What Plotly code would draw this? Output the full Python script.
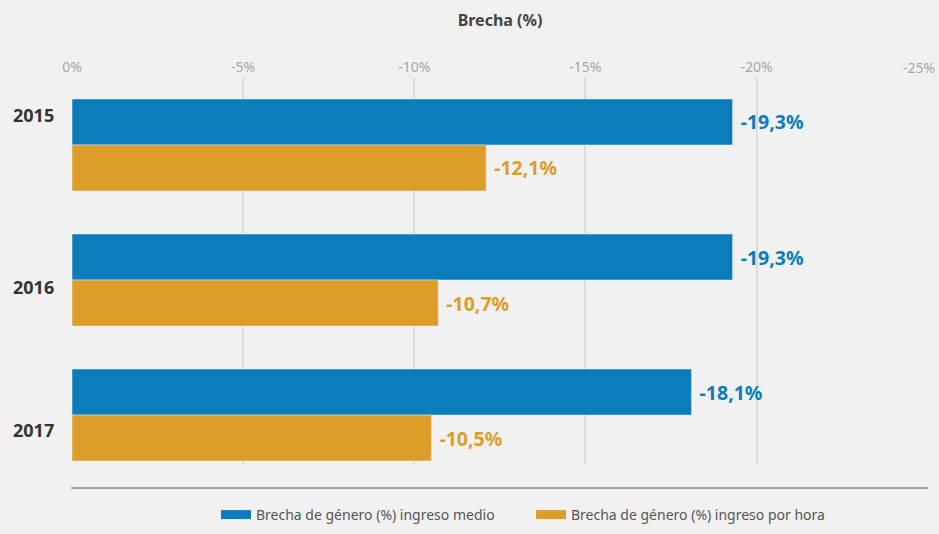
import plotly.graph_objects as go

years = ["2015", "2016", "2017"]
medio = [-19.3, -19.3, -18.1]
hora = [-12.1, -10.7, -10.5]
series_names = ["Brecha de género (%) ingreso medio", "Brecha de género (%) ingreso por hora"]
colors = ["#0c7dbc", "#dc9e28"]
tick_vals = [0, -5, -10, -15, -20, -25]
tick_text = ["0%", "-5%", "-10%", "-15%", "-20%", "-25%"]


def fmt(v):
    return "\u00a0" + ("%.1f%%" % v).replace(".", ",")


fig = go.Figure()
for vals, name, col in zip([medio, hora], series_names, colors):
    fig.add_trace(go.Bar(
        y=years, x=vals, orientation="h", name=name, marker_color=col,
        text=[fmt(v) for v in vals], textposition="outside", constraintext="none",
        textfont=dict(family="Noto Sans", size=19.5, color=col, weight="bold"),
        cliponaxis=False, showlegend=False, hoverinfo="skip",
    ))
    # legend swatch (wide rectangle look)
    fig.add_trace(go.Scatter(
        x=[None], y=[None], mode="lines", name=name,
        line=dict(color=col, width=9), showlegend=True,
    ))

tick_font = dict(family="Noto Sans", size=14, color="#a6a6a6")

fig.update_layout(
    width=939, height=534,
    paper_bgcolor="#f1f1f1", plot_bgcolor="#f1f1f1",
    margin=dict(l=72, r=11, t=78, b=69, autoexpand=False),
    barmode="group", bargap=0.319, bargroupgap=0,
    title=dict(text="<b>Brecha (%)</b>", x=0.5, xref="paper", xanchor="center",
               y=1 - 20 / 534, yanchor="middle",
               font=dict(family="Noto Sans", size=16, color="#444444")),
    xaxis=dict(side="top", range=[0, -25.01], tickvals=tick_vals,
               ticktext=tick_text[:-1] + [""],
               showgrid=True, gridcolor="#dcdcdc", gridwidth=1.5, zeroline=False,
               showline=False, ticks="", ticklabelstandoff=2, automargin=False,
               tickfont=tick_font),
    yaxis=dict(type="category", categoryorder="array", categoryarray=years,
               range=[2.370, -0.496], showticklabels=False, showgrid=False,
               zeroline=False, showline=False, automargin=False),
    legend=dict(orientation="h", x=(216 - 72) / 856, xanchor="left",
                yref="container", y=(534 - 515) / 534, yanchor="middle",
                font=dict(family="Noto Sans", size=14, color="#555555"),
                bgcolor="rgba(0,0,0,0)", itemwidth=30, tracegroupgap=0,
                entrywidth=270, entrywidthmode="pixels"),
    showlegend=True,
)

# last tick label, kept inside the page edge
fig.add_annotation(x=1, xref="paper", y=1, yref="paper", text=tick_text[-1],
                   showarrow=False, xanchor="right", yanchor="middle",
                   xshift=9, yshift=11, font=tick_font)

# year labels
shifts = [30, -7, -15]
for i, (yr, s) in enumerate(zip(years, shifts)):
    fig.add_annotation(x=0, xref="paper", y=i, yref="y", text="<b>%s</b>" % yr,
                       showarrow=False, xanchor="right", xshift=-16, yshift=s,
                       font=dict(family="Noto Sans", size=18, color="#333333"))

# baseline rule under plot
fig.add_shape(type="line", xref="paper", yref="paper", x0=-0.001, x1=1.0,
              y0=-23 / 387, y1=-23 / 387, line=dict(color="#555555", width=1))

fig.write_html("out.html", config={"displayModeBar": False},
               post_script="document.body.style.margin='0';")
